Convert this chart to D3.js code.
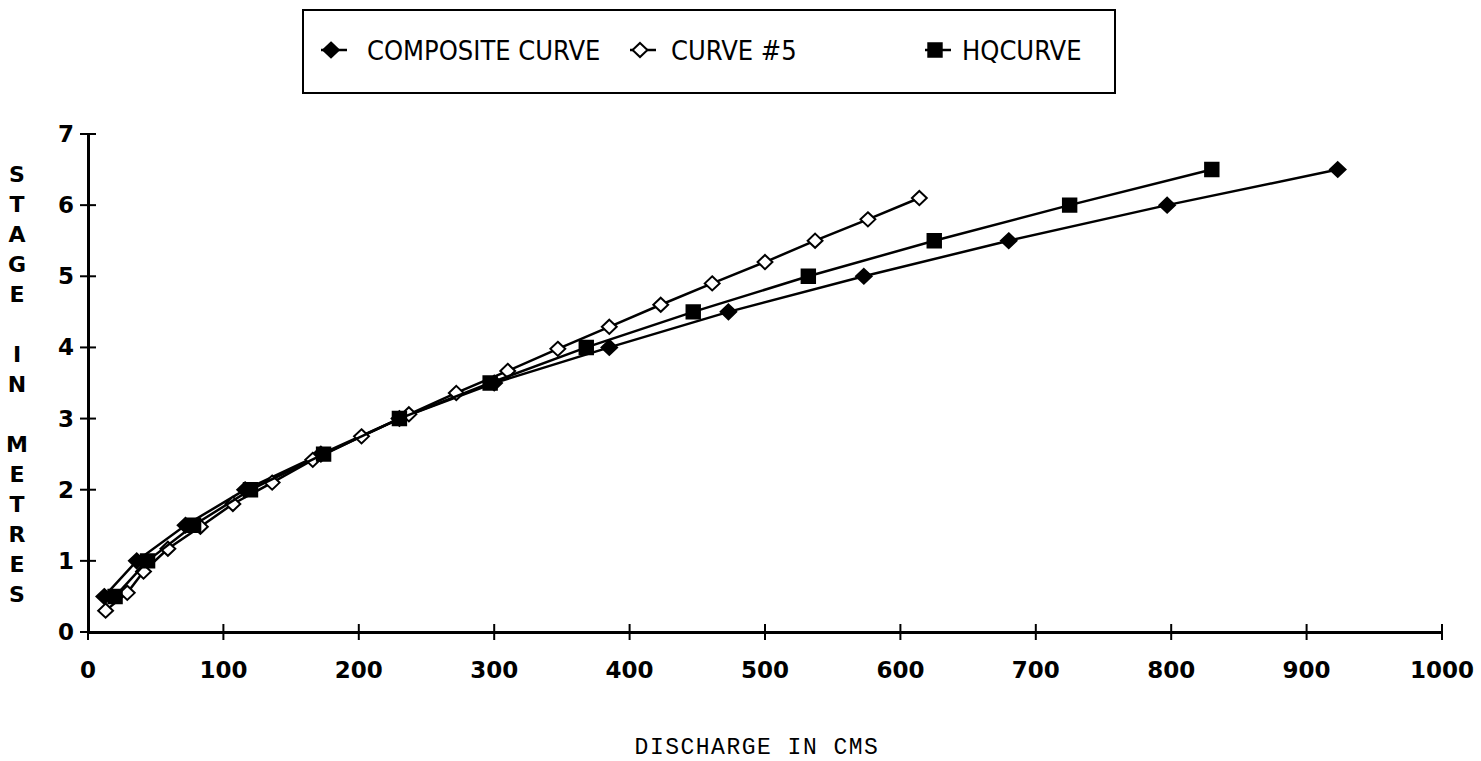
<!DOCTYPE html>
<html>
<head>
<meta charset="utf-8">
<script src="https://d3js.org/d3.v7.min.js"></script>
<style>
    body { margin: 0; background: #fff; }
    .axis-label { font-family: "DejaVu Sans", sans-serif; font-weight: bold; font-size: 23px; fill: #000; }
    .legend-label { font-family: "Liberation Sans Narrow", "DejaVu Sans Condensed", sans-serif; font-size: 27px; fill: #000; }
    .x-title { font-family: "Liberation Mono", "DejaVu Sans Mono", monospace; font-size: 23px; fill: #000; letter-spacing: 1.5px; }
    .y-title { font-family: "DejaVu Sans", sans-serif; font-weight: bold; font-size: 22px; fill: #000; }
</style>
</head>
<body>
<div id="chart"></div>
<script>

// rating curve values (discharge in cms, stage in metres)
var compositeQ = [12, 36, 72, 116, 172, 230, 300, 385, 473, 573, 680, 797, 923];
var compositeH = [0.5, 1.0, 1.5, 2.0, 2.5, 3.0, 3.5, 4.0, 4.5, 5.0, 5.5, 6.0, 6.5];

var curve5Q = [13, 29, 41, 59, 83, 107, 136, 166, 202, 237, 272, 310, 347, 385, 423, 461, 500, 537, 576, 614];
var curve5H = [0.3, 0.55, 0.85, 1.17, 1.48, 1.8, 2.1, 2.42, 2.75, 3.06, 3.36, 3.67, 3.98, 4.29, 4.6, 4.9, 5.2, 5.5, 5.8, 6.1];

var hqQ = [20, 44, 78, 120, 174, 230, 297, 368, 447, 532, 625, 725, 830];
var hqH = [0.5, 1.0, 1.5, 2.0, 2.5, 3.0, 3.5, 4.0, 4.5, 5.0, 5.5, 6.0, 6.5];

var xTicks = [0, 100, 200, 300, 400, 500, 600, 700, 800, 900, 1000];
var yTicks = [0, 1, 2, 3, 4, 5, 6, 7];

var seriesNames = ["COMPOSITE CURVE", "CURVE #5", "HQCURVE"];

function zipPoints(q, h) {
    return q.map(function(d, i) { return { q: d, h: h[i] }; });
}

// squat diamond, about as wide as it is tall
var symbolFlatDiamond = {
    draw: function(context, size) {
        var r = Math.sqrt(size / 2);
        context.moveTo(0, -r);
        context.lineTo(r * 1.05, 0);
        context.lineTo(0, r);
        context.lineTo(-r * 1.05, 0);
        context.closePath();
    }
};

var series = [
    { name: seriesNames[0], points: zipPoints(compositeQ, compositeH), symbol: symbolFlatDiamond, size: 110, filled: true, lx: 331, tx: 367 },
    { name: seriesNames[1], points: zipPoints(curve5Q, curve5H), symbol: symbolFlatDiamond, size: 100, filled: false, lx: 640, tx: 671 },
    { name: seriesNames[2], points: zipPoints(hqQ, hqH), symbol: d3.symbolSquare, size: 180, filled: true, lx: 935, tx: 962 }
];

var width = 1481, height = 761;
var margin = { left: 88, right: 39, top: 134, bottom: 129 };

var svg = d3.select("#chart")
    .append("svg")
    .attr("width", width)
    .attr("height", height);

var x = d3.scaleLinear()
    .domain([0, 1000])
    .range([margin.left, width - margin.right]);

var y = d3.scaleLinear()
    .domain([0, 7])
    .range([height - margin.bottom, margin.top]);

// axes - ticks cross the axis line
var xAxis = d3.axisBottom(x).tickValues(xTicks).tickSize(0).tickFormat("");
var yAxis = d3.axisLeft(y).tickValues(yTicks).tickSize(0).tickFormat("");

svg.append("g")
    .attr("transform", "translate(0," + y(0) + ")")
    .call(xAxis)
    .call(function(g) { g.select(".domain").attr("stroke", "#000").attr("stroke-width", 3); });

svg.append("g")
    .attr("transform", "translate(" + x(0) + ",0)")
    .call(yAxis)
    .call(function(g) { g.select(".domain").attr("stroke", "#000").attr("stroke-width", 3); });

svg.append("g").selectAll("line")
    .data(xTicks)
    .enter()
    .append("line")
    .attr("x1", function(d) { return x(d); })
    .attr("x2", function(d) { return x(d); })
    .attr("y1", y(0) - 8)
    .attr("y2", y(0) + 8)
    .attr("stroke", "#000")
    .attr("stroke-width", 2);

svg.append("g").selectAll("line")
    .data(yTicks)
    .enter()
    .append("line")
    .attr("x1", x(0) - 8)
    .attr("x2", x(0) + 8)
    .attr("y1", function(d) { return y(d); })
    .attr("y2", function(d) { return y(d); })
    .attr("stroke", "#000")
    .attr("stroke-width", 2);

svg.append("g").selectAll("text")
    .data(xTicks)
    .enter()
    .append("text")
    .attr("class", "axis-label")
    .attr("text-anchor", "middle")
    .attr("x", function(d) { return x(d); })
    .attr("y", y(0) + 46)
    .text(function(d) { return d; });

svg.append("g").selectAll("text")
    .data(yTicks)
    .enter()
    .append("text")
    .attr("class", "axis-label")
    .attr("text-anchor", "end")
    .attr("x", x(0) - 14)
    .attr("y", function(d) { return y(d) + 8; })
    .text(function(d) { return d; });

// axis titles
svg.append("text")
    .attr("class", "x-title")
    .attr("text-anchor", "middle")
    .attr("x", 757)
    .attr("y", 754)
    .text("DISCHARGE IN CMS");

var yTitle = "STAGE IN METRES".split("");
svg.append("g").selectAll("text")
    .data(yTitle)
    .enter()
    .append("text")
    .attr("class", "y-title")
    .attr("text-anchor", "middle")
    .attr("x", 17)
    .attr("y", function(d, i) { return 182 + i * 30; })
    .text(function(d) { return d; });

// lines and markers
var line = d3.line()
    .x(function(d) { return x(d.q); })
    .y(function(d) { return y(d.h); });

series.forEach(function(s) {
    var g = svg.append("g");
    g.append("path")
        .datum(s.points)
        .attr("d", line)
        .attr("fill", "none")
        .attr("stroke", "#000")
        .attr("stroke-width", 2.5);

    g.selectAll("path.mark")
        .data(s.points)
        .enter()
        .append("path")
        .attr("class", "mark")
        .attr("d", d3.symbol().type(s.symbol).size(s.size))
        .attr("transform", function(d) { return "translate(" + x(d.q) + "," + y(d.h) + ")"; })
        .attr("fill", s.filled ? "#000" : "#fff")
        .attr("stroke", "#000")
        .attr("stroke-width", 2);
});

// legend
var legend = svg.append("g");
legend.append("rect")
    .attr("x", 303)
    .attr("y", 10)
    .attr("width", 812)
    .attr("height", 83)
    .attr("fill", "none")
    .attr("stroke", "#000")
    .attr("stroke-width", 2);

series.forEach(function(s) {
    legend.append("line")
        .attr("x1", s.lx - 10)
        .attr("x2", s.lx + 16)
        .attr("y1", 50)
        .attr("y2", 50)
        .attr("stroke", "#000")
        .attr("stroke-width", 2.5);
    legend.append("path")
        .attr("d", d3.symbol().type(s.symbol).size(s.size))
        .attr("transform", "translate(" + s.lx + ",50)")
        .attr("fill", s.filled ? "#000" : "#fff")
        .attr("stroke", "#000")
        .attr("stroke-width", 2);
    legend.append("text")
        .attr("class", "legend-label")
        .attr("x", s.tx)
        .attr("y", 60)
        .text(s.name);
});

</script>
</body>
</html>
